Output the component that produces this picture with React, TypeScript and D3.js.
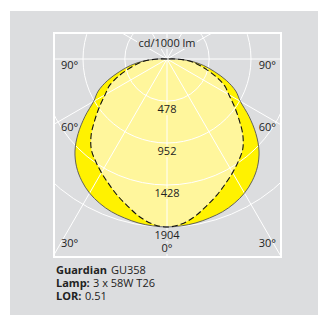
import React from 'react';
import * as d3 from 'd3';

// candela per 1000 lm, read at 5 degree steps from nadir (0) to horizontal (90)
const angles = [0, 5, 10, 15, 20, 25, 30, 35, 40, 45, 50, 55, 60, 65, 70, 75, 80, 85, 90];
const transverseCd = [1904, 1898, 1886, 1865, 1842, 1805, 1755, 1685, 1595, 1475, 1315, 1135, 960, 860, 720, 560, 420, 270, 100];
const axialCd = [1904, 1878, 1812, 1725, 1645, 1562, 1487, 1412, 1335, 1215, 1065, 930, 810, 722, 595, 465, 355, 255, 100];

const ringValues = [478, 952, 1428, 1904];
const spokeAngles = [0, 30, 60, 90, 120, 150, 180, 210, 240, 270, 300, 330];
const angleTicks = ['90°', '60°', '30°'];
const infoBold = ['Guardian', 'Lamp:', 'LOR:'];
const infoText = ['GU358', '3 x 58W T26', '0.51'];

const W = 318, H = 316;
const frame = { x: 54, y: 33, w: 227, h: 224 };
const cx = 167, cy = 59;
const gray = '#dcdddf';
const bright = '#fff200';
const light = '#fff69c';
const font = "'Open Sans', sans-serif";
const rad = Math.PI / 180;

const r = d3.scaleLinear().domain([0, 1904]).range([0, 168]);

function shapePath(values: number[]) {
  const left = angles.map((a, i) => [Math.PI + a * rad, r(values[i])] as [number, number]).reverse();
  const right = angles.slice(1).map((a, i) => [Math.PI - a * rad, r(values[i + 1])] as [number, number]);
  const pts: [number, number][] = [[1.5 * Math.PI, 0], ...left, ...right, [0.5 * Math.PI, 0]];
  const line = d3.lineRadial<[number, number]>()
    .angle(d => d[0])
    .radius(d => d[1])
    .curve(d3.curveCatmullRom);
  return line(pts) + 'Z';
}

// baseline offsets of the angle ticks below the centre
const tickY: Record<string, number> = { '90°': 10, '60°': 72, '30°': 187.5 };
// where the plain part of each info line starts
const infoX = [111, 93, 85];

export default function App() {
  const outer = shapePath(transverseCd);
  const inner = shapePath(axialCd);
  const zeroY = cy + r(1904) + 25;

  return (
    <svg width={W} height={H} style={{ position: 'absolute', left: 0, top: 0, background: '#fff' }}
      fontFamily={font} fill="#222">
      <defs>
        <clipPath id="frameClip">
          <rect x={frame.x} y={frame.y} width={frame.w} height={frame.h} />
        </clipPath>
      </defs>
      <rect x={10} y={11} width={W - 10} height={304} fill={gray} />
      <rect x={frame.x} y={frame.y} width={frame.w} height={frame.h} fill={gray} stroke="#fff" strokeWidth={2} />

      <g clipPath="url(#frameClip)">
        <g transform={`translate(${cx},${cy})`}>
          <path d={outer} fill={bright} />
          <path d={inner} fill={light} />
          {ringValues.map(v => (
            <circle key={v} r={r(v)} fill="none" stroke="#fff" strokeWidth={1} />
          ))}
          {spokeAngles.map(a => (
            <line key={a} x1={0} y1={0}
              x2={300 * Math.sin(a * rad)} y2={300 * Math.cos(a * rad)}
              stroke="#fff" strokeWidth={1} />
          ))}
          <path d={outer} fill="none" stroke="#555" strokeWidth={0.9} />
          <path d={inner} fill="none" stroke="#111" strokeWidth={1.1} strokeDasharray="6,3" />
        </g>
      </g>

      {/* ring values */}
      {ringValues.map((v, i) => {
        const y = cy + r(v) + 12;
        const w = String(v).length * 6.4 + 4;
        return (
          <g key={v}>
            <rect x={cx - w / 2} y={y - 9} width={w} height={11}
              fill={i === ringValues.length - 1 ? gray : light} />
            <text x={cx} y={y} textAnchor="middle" fontSize={11}>{v}</text>
          </g>
        );
      })}
      <rect x={cx - 7} y={zeroY - 9} width={14} height={11} fill={gray} />
      <text x={cx} y={zeroY} textAnchor="middle" fontSize={11}>0°</text>

      <rect x={cx - 30} y={38} width={60} height={11} fill={gray} />
      <text x={cx} y={47} textAnchor="middle" fontSize={11}>cd/1000 lm</text>

      {angleTicks.map(t => (
        <g key={t}>
          <text x={frame.x + 7} y={cy + tickY[t]} fontSize={11}>{t}</text>
          <text x={frame.x + frame.w - 5} y={cy + tickY[t]} textAnchor="end" fontSize={11}>{t}</text>
        </g>
      ))}

      {infoBold.map((b, i) => (
        <g key={b}>
          <text x={56} y={273.5 + i * 13} fontSize={11} fontWeight={700}>{b}</text>
          <text x={infoX[i]} y={273.5 + i * 13} fontSize={11}>{infoText[i]}</text>
        </g>
      ))}
    </svg>
  );
}
